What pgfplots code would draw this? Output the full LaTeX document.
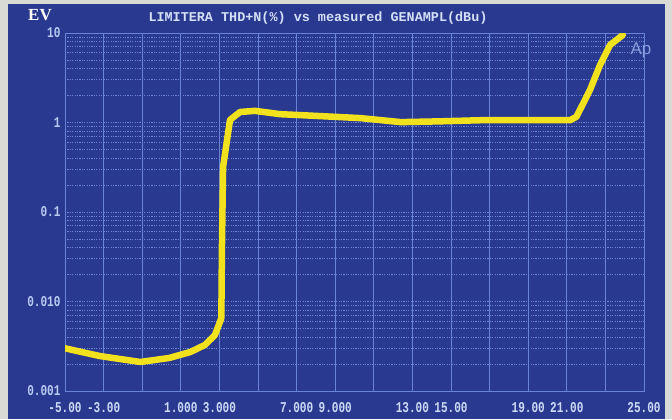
\documentclass[border=0pt]{standalone}
\usepackage{pgfplots}
\pgfplotsset{compat=1.18}
\usepackage{fontspec}
\setmainfont{Liberation Sans}
\newfontfamily\monofont{Liberation Mono}
\newfontfamily\tickfont[FakeStretch=0.74]{Liberation Mono}
\newfontfamily\seriffont{Liberation Serif}

\definecolor{photogrey}{HTML}{D9D9D6}
\definecolor{screenblue}{HTML}{2A3990}
\definecolor{gridblue}{HTML}{6A84D4}
\definecolor{labelblue}{HTML}{B8CCF4}
\definecolor{traceyellow}{HTML}{F2E21E}

\begin{document}
\begin{tikzpicture}[x=1bp,y=1bp]
\useasboundingbox (0,0) rectangle (672,419);
\fill[photogrey] (0,0) rectangle (672,419);
\fill[screenblue] (8,0) rectangle (665,415);

% header texts
\node[white, font=\seriffont\bfseries\fontsize{17}{17}\selectfont] at (40,404) {EV};
\node[labelblue!60!white, font=\monofont\bfseries\fontsize{13.5}{13.5}\selectfont] at (318,401) {LIMITERA THD+N(\%) vs measured GENAMPL(dBu)};

\begin{axis}[
    at={(65bp,28bp)}, anchor=south west,
    scale only axis,
    width=579bp, height=358bp,
    ymode=log,
    xmin=-5, xmax=25,
    ymin=0.001, ymax=10,
    xtick={-5,-3,...,25},
    xticklabels={-5.00,-3.00,,1.000,3.000,,7.000,9.000,,13.00,15.00,,19.00,21.00,,25.00},
    ytick={0.001,0.01,0.1,1,10},
    yticklabels={0.001,0.010,0.1,1,10},
    major tick length=0pt, minor tick length=0pt,
    xmajorgrids=true,
    ymajorgrids=true, yminorgrids=true,
    x grid style={gridblue, line width=0.9bp},
    y grid style={gridblue, line width=0.8bp, dash pattern=on 1.2bp off 1.2bp},
    minor y grid style={gridblue, line width=0.8bp, dash pattern=on 1.2bp off 1.2bp},
    axis line style={gridblue, line width=0.8bp},
    ticklabel style={font=\tickfont\bfseries\fontsize{15}{15}\selectfont},
    xticklabel style={labelblue!70!white, yshift=-8bp},
    yticklabel style={labelblue, xshift=-1bp},
]
\addplot[traceyellow, line width=6.5bp, line cap=round, line join=round] coordinates {
(-5,0.0030) (-3.2,0.00246) (-1.1,0.00211) (0.4,0.00234) (1.5,0.00273)
(2.25,0.00327) (2.77,0.00423) (3.1,0.0065) (3.13,0.0376) (3.19,0.318)
(3.55,1.07) (4.07,1.31) (4.84,1.35) (6.14,1.24) (8.2,1.18) (10.3,1.12)
(12.4,1.01) (14.4,1.03) (16.5,1.06) (18.6,1.06) (21.17,1.06) (21.5,1.16)
(22.2,2.31) (22.72,4.39) (23.24,7.35) (23.9,9.5)
};
\end{axis}

\node[gridblue!80!white, font=\fontsize{17}{17}\selectfont] at (641,369) {Ap};
\end{tikzpicture}
\end{document}
